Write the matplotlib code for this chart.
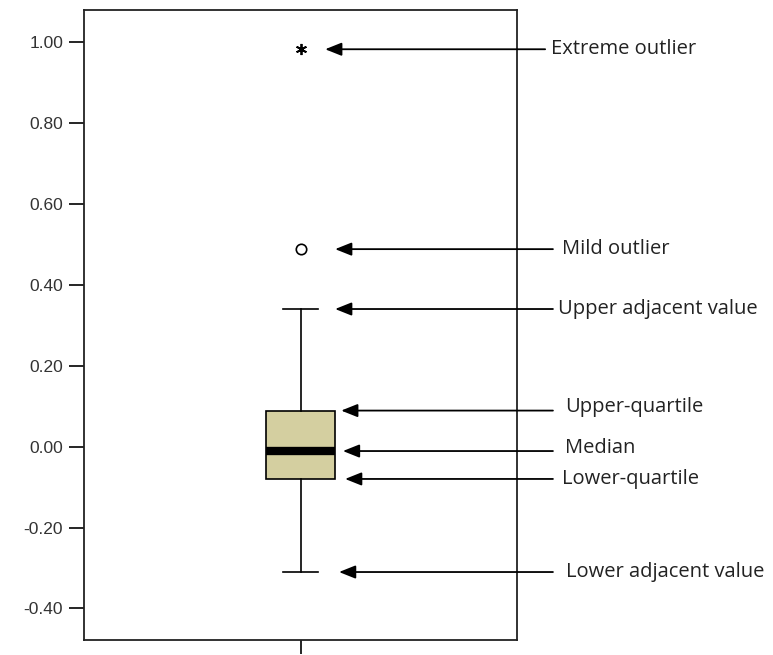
import matplotlib
matplotlib.use("Agg")
import matplotlib.pyplot as plt

# ---- data ----
median = -0.011
q1 = -0.080
q3 = 0.089
whisker_low = -0.310
whisker_high = 0.340
mild_outliers = [0.488]
extreme_outliers = [0.982]

y_ticks = [-0.40, -0.20, 0.00, 0.20, 0.40, 0.60, 0.80, 1.00]
y_tick_labels = ["-0.40", "-0.20", "0.00", "0.20", "0.40", "0.60", "0.80", "1.00"]

labels = ["Extreme outlier", "Mild outlier", "Upper adjacent value",
          "Upper-quartile", "Median", "Lower-quartile", "Lower adjacent value"]
label_values = [extreme_outliers[0], mild_outliers[0], whisker_high,
                q3, median, q1, whisker_low]

# ---- layout / style ----
arrow_tip_x = [0.557, 0.580, 0.580, 0.594, 0.598, 0.603, 0.589]
arrow_tail_x = [1.065, 1.083, 1.083, 1.083, 1.083, 1.083, 1.083]
text_x = [1.079, 1.104, 1.095, 1.111, 1.111, 1.104, 1.113]
label_dy = [0.0, 0.0, 0.0, 0.008, 0.008, 0.0, 0.0]

fig = plt.figure(figsize=(7.73, 6.55), dpi=100)
ax = fig.add_axes([84 / 773, 1 - 640 / 655, (517 - 84) / 773, (640 - 10) / 655])

stats = [dict(med=median, q1=q1, q3=q3, whislo=whisker_low, whishi=whisker_high,
              fliers=[], label="")]
ax.bxp(stats, positions=[1], widths=0.16, showfliers=False, patch_artist=True,
       boxprops=dict(facecolor="#D4CFA0", edgecolor="black", linewidth=1.2),
       medianprops=dict(color="black", linewidth=6, solid_capstyle="butt"),
       whiskerprops=dict(color="black", linewidth=1.2),
       capprops=dict(color="black", linewidth=1.2),
       capwidths=0.08)

ax.plot([1] * len(mild_outliers), mild_outliers, linestyle="none", marker="o",
        markersize=7.5, markerfacecolor="white", markeredgecolor="black",
        markeredgewidth=1.2)
ax.plot([1] * len(extreme_outliers), extreme_outliers, linestyle="none",
        marker=(6, 2, 0), markersize=8, markeredgecolor="black",
        markeredgewidth=1.3)

ax.set_xlim(0.5, 1.5)
ax.set_ylim(-0.478, 1.079)
ax.set_yticks(y_ticks)
ax.set_yticklabels(y_tick_labels, fontfamily="Liberation Sans", fontsize=12.5,
                   color="#333333")
ax.set_xticks([1])
ax.set_xticklabels([""])
ax.tick_params(axis="y", direction="out", length=11, width=1.2, pad=4)
ax.tick_params(axis="x", direction="out", length=10, width=1.2)
for sp in ax.spines.values():
    sp.set_linewidth(1.3)
    sp.set_color("#222222")

trans = ax.get_yaxis_transform()  # x in axes fraction, y in data
for lab, v, tip, tail, tx, dy in zip(labels, label_values, arrow_tip_x,
                                     arrow_tail_x, text_x, label_dy):
    ax.annotate("", xy=(tip, v), xytext=(tail, v), xycoords=trans,
                textcoords=trans, annotation_clip=False,
                arrowprops=dict(arrowstyle="-|>,head_length=1.0,head_width=0.4",
                                color="black", linewidth=1.3,
                                shrinkA=0, shrinkB=0))
    ax.text(tx, v + dy, lab, transform=trans, ha="left", va="center",
            fontfamily="Open Sans", fontsize=14.5, color="#222222", clip_on=False)

fig.savefig("out.png", dpi=100)
